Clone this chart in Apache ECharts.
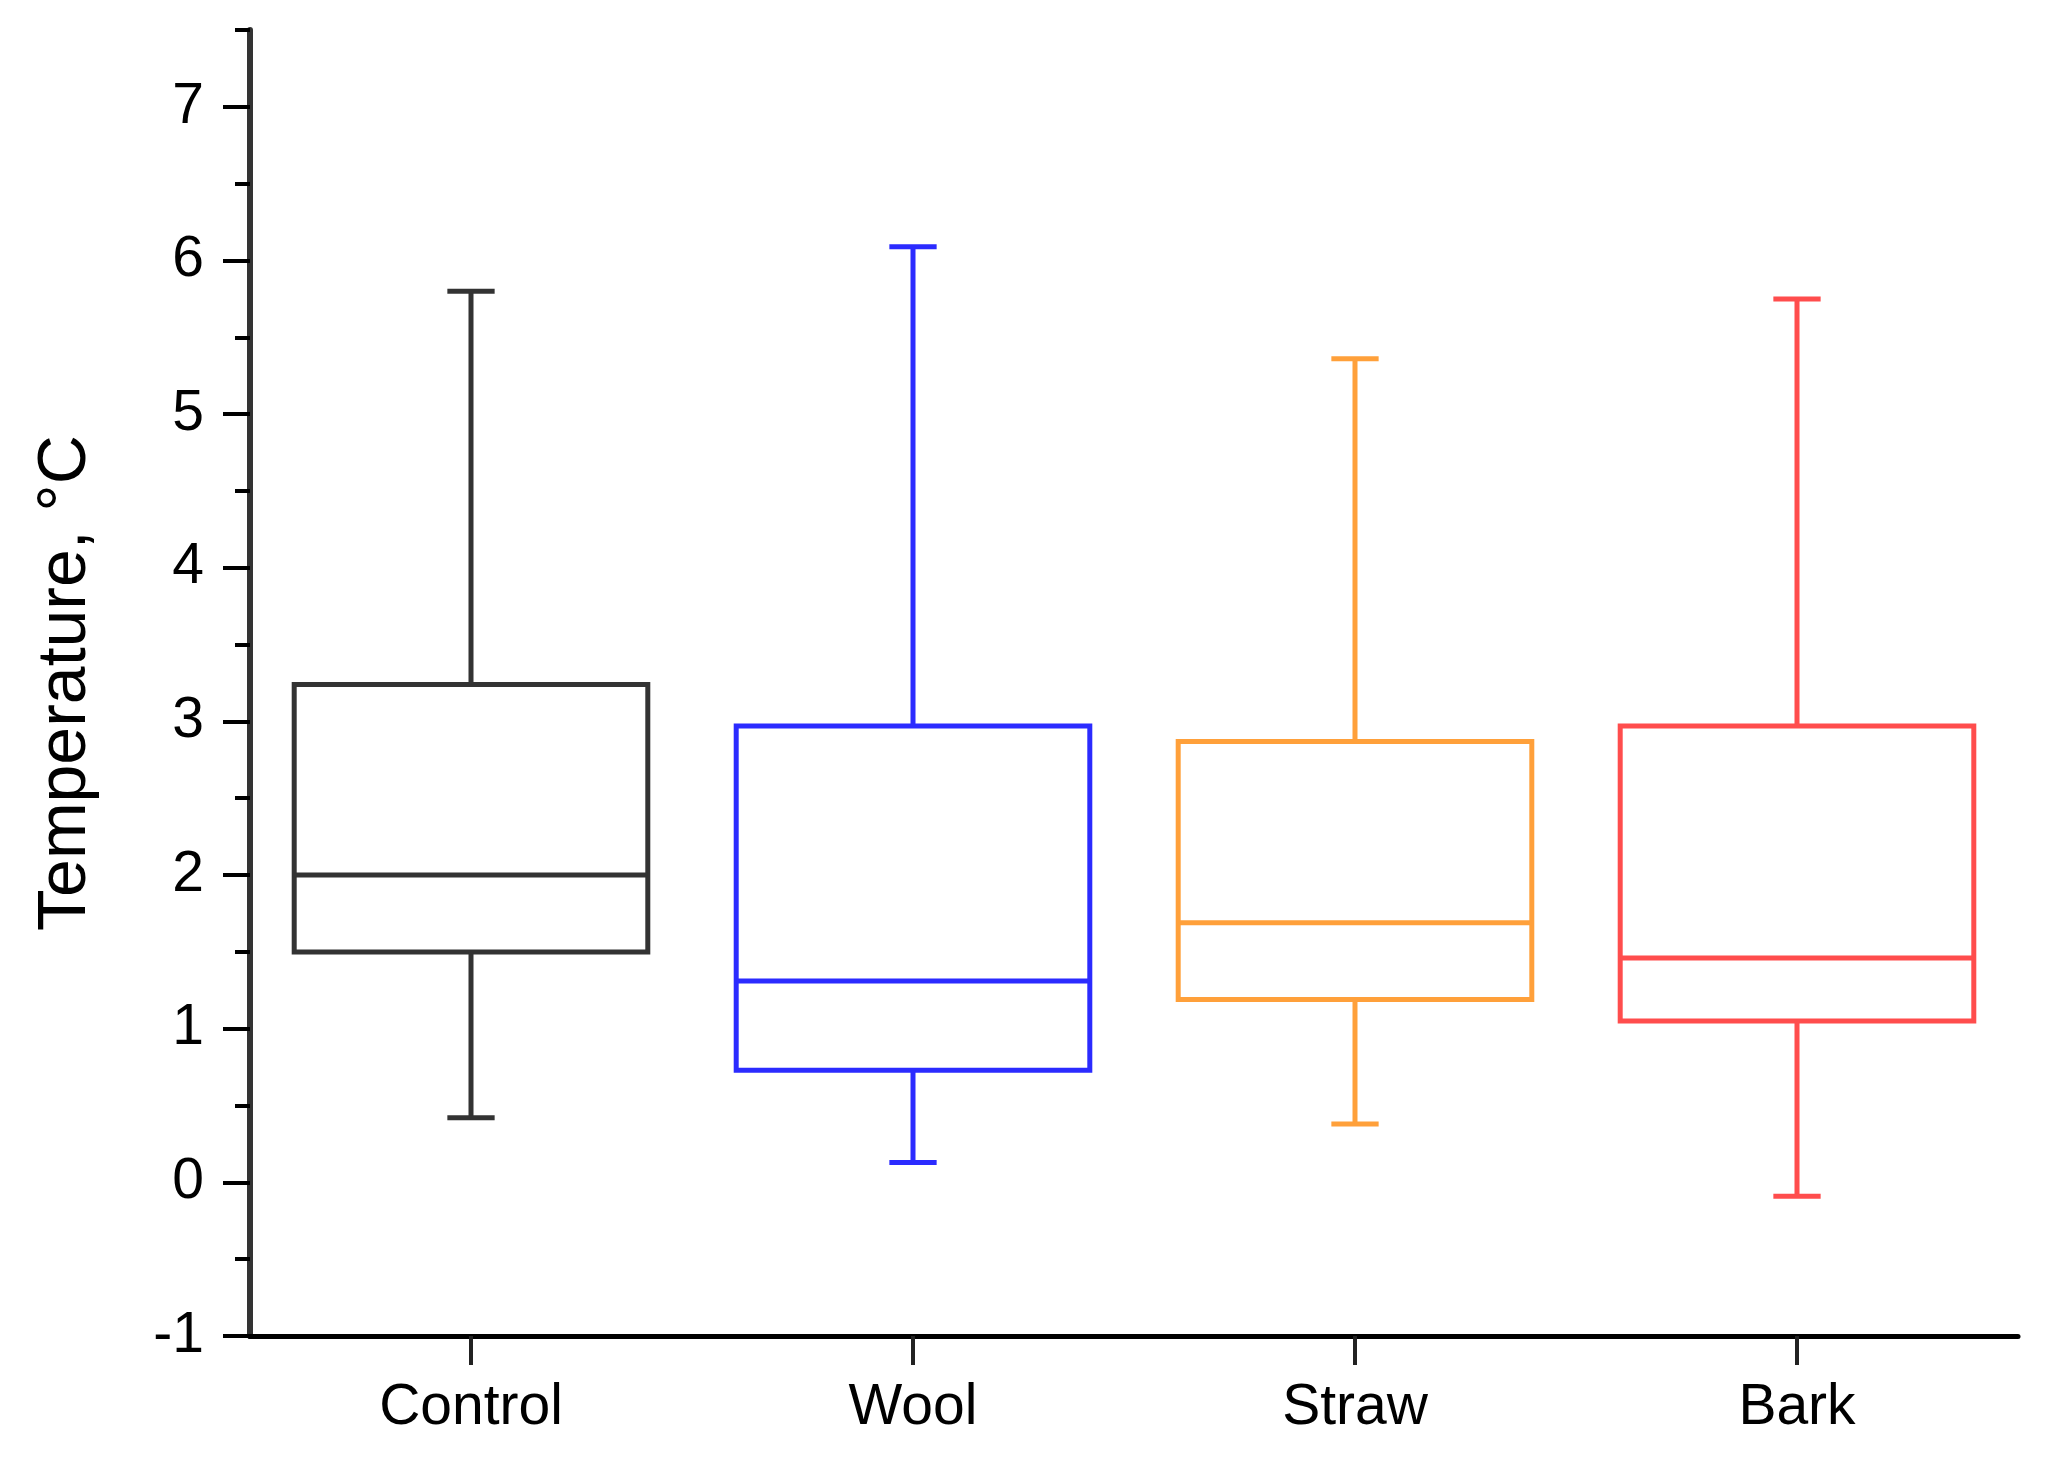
<!DOCTYPE html>
<html>
<head>
<meta charset="utf-8">
<script src="https://cdn.jsdelivr.net/npm/echarts@6/dist/echarts.min.js"></script>
<style>
html,body{margin:0;padding:0;background:#fff;}
#chart{width:2059px;height:1469px;}
</style>
</head>
<body>
<div id="chart"></div>
<script>
const categories = ['Control', 'Wool', 'Straw', 'Bark'];
const whiskerLow  = [0.42, 0.13, 0.38, -0.09];
const q1          = [1.50, 0.73, 1.19, 1.05];
const median      = [2.00, 1.31, 1.69, 1.46];
const q3          = [3.24, 2.97, 2.87, 2.97];
const whiskerHigh = [5.80, 6.09, 5.36, 5.75];
const colors = ['#333333', '#2b2bff', '#ffa03a', '#ff4d4d'];
const majorTicks = [-1, 0, 1, 2, 3, 4, 5, 6, 7];
const minorTicks = [-0.5, 0.5, 1.5, 2.5, 3.5, 4.5, 5.5, 6.5, 7.5];

const data = categories.map((c, i) => [i, whiskerLow[i], q1[i], median[i], q3[i], whiskerHigh[i]]);

const chart = echarts.init(document.getElementById('chart'));
const font = '"Liberation Sans", Arial, sans-serif';

chart.setOption({
  backgroundColor: '#fff',
  animation: false,
  grid: { left: 250, right: 41, top: 30, bottom: 133, containLabel: false },
  xAxis: {
    type: 'category',
    data: categories,
    boundaryGap: true,
    axisLine: { show: true, onZero: false, lineStyle: { color: '#000', width: 5 } },
    axisTick: { show: true, alignWithLabel: true, length: 29, lineStyle: { color: '#222', width: 4 } },
    axisLabel: { color: '#000', fontSize: 57, fontFamily: font, margin: 44 },
    splitLine: { show: false }
  },
  yAxis: [{
    type: 'value',
    min: -1, max: 7.5, interval: 1,
    name: 'Temperature, °C',
    nameLocation: 'middle',
    nameGap: 150,
    nameTextStyle: { color: '#000', fontSize: 68, fontFamily: font },
    axisLine: { show: true, onZero: false, lineStyle: { color: '#333', width: 6 } },
    axisTick: { show: true, length: 27, customValues: majorTicks, lineStyle: { color: '#000', width: 4 } },
    axisLabel: { color: '#000', fontSize: 57, fontFamily: font, margin: 46, customValues: majorTicks },
    splitLine: { show: false }
  }, {
    type: 'value',
    min: -1, max: 7.5, interval: 1,
    position: 'left',
    axisLine: { show: false, onZero: false },
    axisTick: { show: true, length: 15, customValues: minorTicks, lineStyle: { color: '#000', width: 4 } },
    axisLabel: { show: false },
    splitLine: { show: false }
  }],
  series: [{
    type: 'custom',
    data: data,
    clip: false,
    renderItem: function (params, api) {
      const idx = api.value(0);
      const band = api.size([1, 0])[0];
      const boxW = band * 0.80;
      const capW = band * 0.107;
      const pLow = api.coord([idx, api.value(1)]);
      const pQ1 = api.coord([idx, api.value(2)]);
      const pMed = api.coord([idx, api.value(3)]);
      const pQ3 = api.coord([idx, api.value(4)]);
      const pHigh = api.coord([idx, api.value(5)]);
      const x = pQ1[0];
      const color = colors[params.dataIndex];
      const ls = { stroke: color, lineWidth: 5, fill: null };
      return {
        type: 'group',
        children: [
          { type: 'rect', shape: { x: x - boxW / 2, y: pQ3[1], width: boxW, height: pQ1[1] - pQ3[1] }, style: { stroke: color, lineWidth: 5, fill: 'transparent' } },
          { type: 'line', shape: { x1: x - boxW / 2, y1: pMed[1], x2: x + boxW / 2, y2: pMed[1] }, style: ls },
          { type: 'line', shape: { x1: x, y1: pQ3[1], x2: x, y2: pHigh[1] }, style: ls },
          { type: 'line', shape: { x1: x, y1: pQ1[1], x2: x, y2: pLow[1] }, style: ls },
          { type: 'line', shape: { x1: x - capW / 2, y1: pHigh[1], x2: x + capW / 2, y2: pHigh[1] }, style: ls },
          { type: 'line', shape: { x1: x - capW / 2, y1: pLow[1], x2: x + capW / 2, y2: pLow[1] }, style: ls }
        ]
      };
    },
    encode: { x: 0, y: [1, 2, 3, 4, 5] }
  }]
});
</script>
</body>
</html>
